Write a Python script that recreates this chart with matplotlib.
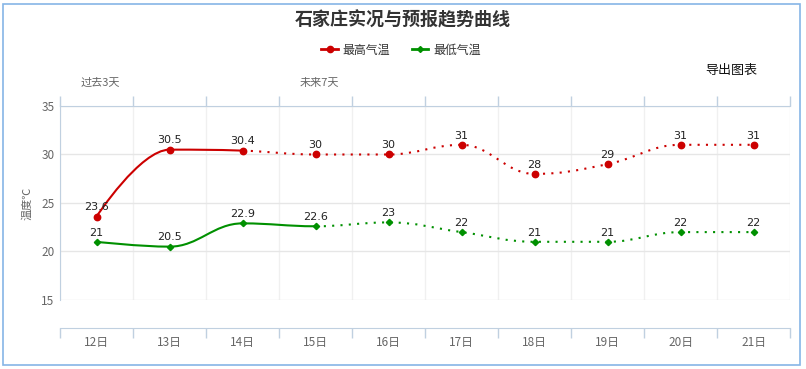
import numpy as np
import matplotlib
matplotlib.use("Agg")
import matplotlib.pyplot as plt
from matplotlib.path import Path
from matplotlib.patches import PathPatch, Rectangle
from matplotlib.lines import Line2D

plt.rcParams['font.family'] = ['Noto Sans CJK SC', 'DejaVu Sans']

days = ["12日", "13日", "14日", "15日", "16日", "17日", "18日", "19日", "20日", "21日"]
high = [23.6, 30.5, 30.4, 30, 30, 31, 28, 29, 31, 31]
low = [21, 20.5, 22.9, 22.6, 23, 22, 21, 21, 22, 22]
high_labels = ["23.6", "30.5", "30.4", "30", "30", "31", "28", "29", "31", "31"]
low_labels = ["21", "20.5", "22.9", "22.6", "23", "22", "21", "21", "22", "22"]
high_solid_end = 2   # observed part ends at 14日
low_solid_end = 3    # observed part ends at 15日

RED = "#cc0000"
GREEN = "#009000"
AXIS = "#c0d0e0"


def spline_segments(ys, smoothing=1.5):
    """Highcharts-style spline: returns list of (p0, c1, c2, p3) per segment."""
    n = len(ys)
    xs = np.arange(n, dtype=float)
    left = [None] * n
    right = [None] * n
    denom = smoothing + 1
    for i in range(n):
        if i == 0 or i == n - 1:
            left[i] = right[i] = (xs[i], ys[i])
            continue
        px, py = xs[i], ys[i]
        lx, ly = xs[i - 1], ys[i - 1]
        nx, ny = xs[i + 1], ys[i + 1]
        lcx = (smoothing * px + lx) / denom
        lcy = (smoothing * py + ly) / denom
        rcx = (smoothing * px + nx) / denom
        rcy = (smoothing * py + ny) / denom
        corr = (rcy - lcy) * (rcx - px) / (rcx - lcx) + py - rcy
        lcy += corr
        rcy += corr
        if lcy > ly and lcy > py:
            lcy = max(ly, py)
            rcy = 2 * py - lcy
        elif lcy < ly and lcy < py:
            lcy = min(ly, py)
            rcy = 2 * py - lcy
        if rcy > ny and rcy > py:
            rcy = max(ny, py)
            lcy = 2 * py - rcy
        elif rcy < ny and rcy < py:
            rcy = min(ny, py)
            lcy = 2 * py - rcy
        left[i] = (lcx, lcy)
        right[i] = (rcx, rcy)
    segs = []
    for i in range(1, n):
        segs.append(((xs[i - 1], ys[i - 1]), right[i - 1], left[i], (xs[i], ys[i])))
    return segs


def seg_path(segs):
    verts = [segs[0][0]]
    codes = [Path.MOVETO]
    for s in segs:
        verts += [s[1], s[2], s[3]]
        codes += [Path.CURVE4] * 3
    return Path(verts, codes)


def draw_series(ax, ys, labels, solid_end, color, marker, ms):
    segs = spline_segments(ys)
    ax.add_patch(PathPatch(seg_path(segs[:solid_end]), fill=False, edgecolor=color,
                           lw=1.5, zorder=3))
    ax.add_patch(PathPatch(seg_path(segs[solid_end:]), fill=False, edgecolor=color,
                           lw=1.5, linestyle=(0, (1, 3)), zorder=3))
    ax.plot(range(len(ys)), ys, linestyle="none", marker=marker, ms=ms,
            color=color, zorder=4, clip_on=False)
    for i, (v, t) in enumerate(zip(ys, labels)):
        ax.annotate(t, (i, v), xytext=(0, 4.5), textcoords="offset points",
                    ha="center", va="baseline", fontsize=8, color="#222222",
                    family="DejaVu Sans", zorder=5)


fig = plt.figure(figsize=(8.06, 3.69), dpi=100)
ax = fig.add_axes([60 / 806, 69 / 369, 730 / 806, 194 / 369])

draw_series(ax, high, high_labels, high_solid_end, RED, "o", 4.6)
draw_series(ax, low, low_labels, low_solid_end, GREEN, "D", 3.2)

ax.set_xlim(-0.5, len(days) - 0.5)
ax.set_ylim(15, 35)
ax.set_yticks([15, 20, 25, 30, 35])
ax.set_xticks(range(len(days)))
ax.set_xticklabels(days)
ax.set_xticks(np.arange(-0.5, len(days)), minor=True)

ax.grid(axis="y", which="major", color="#e6e6e6", lw=1)
ax.grid(axis="x", which="minor", color="#f0f0f0", lw=1)
ax.grid(axis="x", which="major", visible=False)
ax.set_axisbelow(True)

ax.spines["right"].set_visible(False)
ax.spines["left"].set_color(AXIS)
ax.spines["top"].set_color(AXIS)
ax.spines["bottom"].set_color(AXIS)
ax.spines["bottom"].set_position(("outward", 20))

ax.tick_params(axis="y", length=0, pad=4, labelsize=8.5, labelcolor="#666666")
ax.tick_params(axis="x", which="major", length=0, pad=6, labelsize=8.5,
               labelcolor="#666666", top=False)
ax.tick_params(axis="x", which="minor", length=7, width=1, color=AXIS,
               top=True, bottom=True, direction="out")

fig.text(27 / 806, 1 - 203 / 369, "温度℃", rotation=90, ha="center", va="center",
         fontsize=8, color="#666666")

fig.text(0.5, 1 - 20 / 369, "石家庄实况与预报趋势曲线", ha="center", va="center",
         fontsize=13, fontweight="bold", color="#333333")

handles = [Line2D([], [], color=RED, lw=2, marker="o", ms=4.5),
           Line2D([], [], color=GREEN, lw=2, marker="D", ms=3)]
fig.legend(handles, ["最高气温", "最低气温"], loc="center",
           bbox_to_anchor=(401 / 806, 1 - 50 / 369), ncol=2, frameon=False,
           fontsize=8.6, handlelength=1.4, handletextpad=0.4, columnspacing=1.8,
           labelcolor="#333333")

fig.text(731 / 806, 1 - 70 / 369, "导出图表", ha="center", va="center",
         fontsize=9.4, color="#111111")
fig.text(100 / 806, 1 - 83 / 369, "过去3天", ha="center", va="center",
         fontsize=8, color="#666666")
fig.text(319 / 806, 1 - 83 / 369, "未来7天", ha="center", va="center",
         fontsize=8, color="#666666")

fig.patches.append(Rectangle((3 / 806, 4 / 369), 797 / 806, 361 / 369,
                             transform=fig.transFigure, fill=False,
                             edgecolor="#86b5e6", lw=1.2))

fig.savefig("out.png", dpi=100)
